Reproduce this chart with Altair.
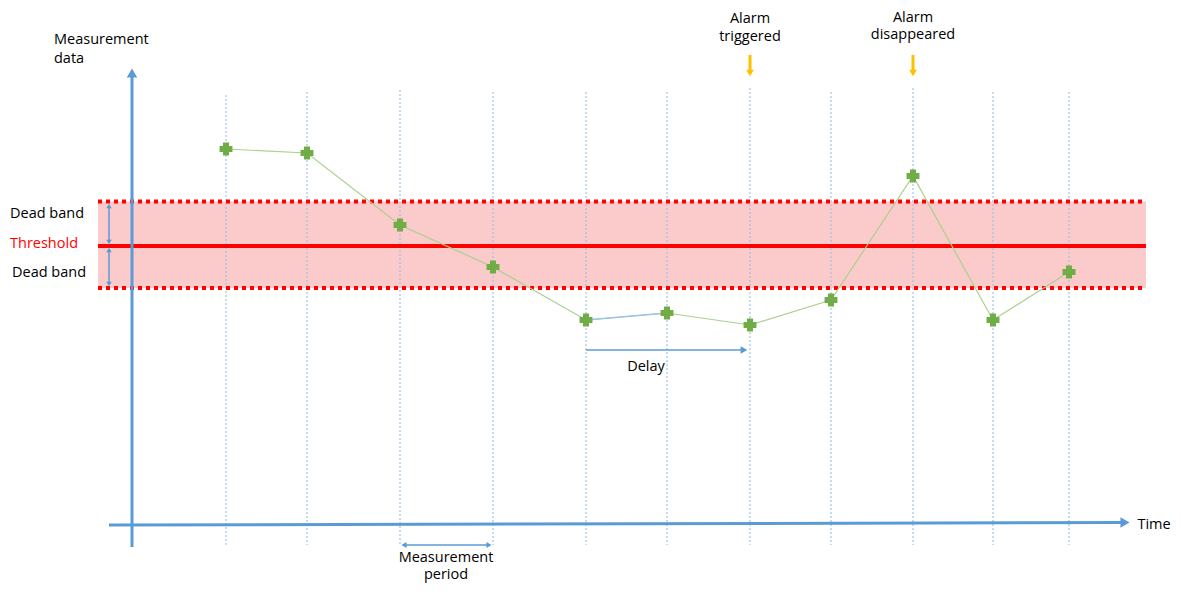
import altair as alt
import pandas as pd

# ---- data (page-pixel coordinate system of the diagram) ----
period_x = [226, 307, 400, 493, 586, 667, 750, 831, 913, 993, 1069]
grid_top = [95, 92, 90, 92, 92, 92, 88, 92, 88, 92, 92]
meas_y = [149, 153, 225, 267, 320, 313, 325, 300, 176, 320, 272]

band_x = [98, 1146]
band_top, threshold_y, band_bottom = 201.5, 246, 288

FONT = "Open Sans"
BLUE = "#5b9bd5"
LBLUE = "#9dc3e6"
RED = "#ff0000"
GREEN = "#70ad47"
LGREEN = "#a9d18e"
ORANGE = "#ffc000"

labels = pd.DataFrame([
    {"x": 54, "y": 40, "t": "Measurement", "c": "black", "a": "left"},
    {"x": 54, "y": 59, "t": "data", "c": "black", "a": "left"},
    {"x": 47, "y": 214, "t": "Dead band", "c": "black", "a": "center"},
    {"x": 44, "y": 244, "t": "Threshold", "c": "red", "a": "center"},
    {"x": 49, "y": 273, "t": "Dead band", "c": "black", "a": "center"},
    {"x": 750, "y": 19, "t": "Alarm", "c": "black", "a": "center"},
    {"x": 750, "y": 37, "t": "triggered", "c": "black", "a": "center"},
    {"x": 913, "y": 18, "t": "Alarm", "c": "black", "a": "center"},
    {"x": 913, "y": 35, "t": "disappeared", "c": "black", "a": "center"},
    {"x": 646, "y": 367, "t": "Delay", "c": "black", "a": "center"},
    {"x": 446, "y": 558, "t": "Measurement", "c": "black", "a": "center"},
    {"x": 446, "y": 575, "t": "period", "c": "black", "a": "center"},
    {"x": 1154, "y": 525, "t": "Time", "c": "black", "a": "center"},
])

X = alt.X("x:Q", scale=alt.Scale(domain=[8, 1172], nice=False, zero=False), axis=None)
Y = alt.Y("y:Q", scale=alt.Scale(domain=[584, 8], nice=False, zero=False), axis=None)

def rule_df(rows):
    return pd.DataFrame(rows, columns=["x", "y", "x2", "y2"])

# band
band = alt.Chart(pd.DataFrame({"x": [band_x[0]], "x2": [band_x[1]], "y": [band_top], "y2": [band_bottom]})).mark_rect(
    color="#fbcaca").encode(X, Y, x2="x2:Q", y2="y2:Q")

# vertical dotted period lines
grid = alt.Chart(pd.DataFrame({"x": period_x, "y": grid_top, "x2": period_x, "y2": [545] * len(period_x)})).mark_rule(
    color=LBLUE, strokeWidth=1.2, strokeDash=[2, 2]).encode(X, Y, x2="x2:Q", y2="y2:Q")

band_edges = alt.Chart(rule_df([[band_x[0], band_top, band_x[1], band_top],
                                [band_x[0], band_bottom, band_x[1], band_bottom]])).mark_rule(
    color=RED, strokeWidth=4, strokeDash=[4, 4]).encode(X, Y, x2="x2:Q", y2="y2:Q")

thr = alt.Chart(rule_df([[band_x[0], threshold_y, band_x[1], threshold_y]])).mark_rule(
    color=RED, strokeWidth=4).encode(X, Y, x2="x2:Q", y2="y2:Q")

# axes arrows
axes = alt.Chart(rule_df([[132, 547, 132, 74], [109, 525, 1122, 522.5]])).mark_rule(
    color=BLUE, strokeWidth=3).encode(X, Y, x2="x2:Q", y2="y2:Q")

# thin blue annotation arrows
thin = alt.Chart(rule_df([[109, 206, 109, 242], [109, 250, 109, 284],
                          [586, 350, 742, 350], [404, 545, 489, 545]])).mark_rule(
    color=BLUE, strokeWidth=1.5).encode(X, Y, x2="x2:Q", y2="y2:Q")

orange = alt.Chart(rule_df([[750, 55, 750, 72], [913, 55, 913, 72]])).mark_rule(
    color=ORANGE, strokeWidth=3).encode(X, Y, x2="x2:Q", y2="y2:Q")

heads = pd.DataFrame([
    {"x": 132, "y": 73, "s": "triangle-up", "c": BLUE, "z": 110},
    {"x": 1125, "y": 522.4, "s": "triangle-right", "c": BLUE, "z": 110},
    {"x": 744, "y": 350, "s": "triangle-right", "c": BLUE, "z": 60},
    {"x": 404, "y": 545, "s": "triangle-left", "c": BLUE, "z": 35},
    {"x": 489, "y": 545, "s": "triangle-right", "c": BLUE, "z": 35},
    {"x": 109, "y": 206, "s": "triangle-up", "c": BLUE, "z": 30},
    {"x": 109, "y": 242, "s": "triangle-down", "c": BLUE, "z": 30},
    {"x": 109, "y": 250, "s": "triangle-up", "c": BLUE, "z": 30},
    {"x": 109, "y": 284, "s": "triangle-down", "c": BLUE, "z": 30},
    {"x": 750, "y": 73, "s": "triangle-down", "c": ORANGE, "z": 60},
    {"x": 913, "y": 73, "s": "triangle-down", "c": ORANGE, "z": 60},
])
head_layer = alt.Chart(heads).mark_point(filled=True, opacity=1, strokeWidth=0).encode(
    X, Y,
    shape=alt.Shape("s:N", scale=None),
    color=alt.Color("c:N", scale=None),
    size=alt.Size("z:Q", scale=None),
)

meas = pd.DataFrame({"x": period_x, "y": meas_y, "i": list(range(len(period_x)))})
line = alt.Chart(meas).mark_line(color=LGREEN, strokeWidth=1.2).encode(X, Y, order="i:Q")
blue_seg = alt.Chart(rule_df([[period_x[4], meas_y[4], period_x[5], meas_y[5]]])).mark_rule(
    color=LBLUE, strokeWidth=1.5).encode(X, Y, x2="x2:Q", y2="y2:Q")
pts = alt.Chart(meas).mark_point(shape="cross", filled=True, color=GREEN, size=130, opacity=1,
                                 stroke=GREEN, strokeWidth=1.5).encode(X, Y)

text_left = alt.Chart(labels[labels.a == "left"]).mark_text(
    font=FONT, fontSize=14.5, baseline="middle", align="left").encode(
    X, Y, text="t:N", color=alt.Color("c:N", scale=None))
text_center = alt.Chart(labels[labels.a == "center"]).mark_text(
    font=FONT, fontSize=14.5, baseline="middle", align="center").encode(
    X, Y, text="t:N", color=alt.Color("c:N", scale=None))

chart = alt.layer(band, grid, band_edges, thr, axes, thin, orange, head_layer,
                  line, blue_seg, pts, text_left, text_center).properties(
    width=1164, height=576,
    autosize=alt.AutoSizeParams(type="none"),
    padding=0,
).configure_view(stroke=None)

chart.save("out.html", embed_options={"renderer": "svg", "actions": False})
